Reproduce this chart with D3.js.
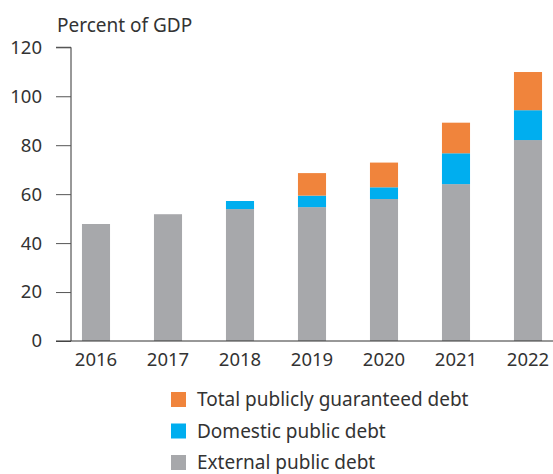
<!DOCTYPE html>
<html>
<head>
<meta charset="utf-8">
<script src="https://cdn.jsdelivr.net/npm/d3@7"></script>
<style>
  body { margin: 0; background: #fff; }
  text { font-family: "Noto Sans", sans-serif; fill: #333; }
</style>
</head>
<body>
<div id="chart"></div>
<script>
const width = 553
const height = 474

const years = ["2016", "2017", "2018", "2019", "2020", "2021", "2022"]
const external = [47.8, 51.8, 53.9, 54.7, 58.0, 64.1, 82.1]
const domestic = [0, 0, 3.3, 4.7, 4.8, 12.6, 12.2]
const guaranteed = [0, 0, 0, 9.2, 10.1, 12.5, 15.6]
const yTicks = [0, 20, 40, 60, 80, 100, 120]

const seriesNames = ["External public debt", "Domestic public debt", "Total publicly guaranteed debt"]
const colors = ["#a7a8ab", "#00aeef", "#f0843c"]

const svg = d3.select("#chart").append("svg").attr("width", width).attr("height", height)

// escalas
const x = d3.scaleBand().domain(years).range([60, 564]).paddingInner(0.61).paddingOuter(0.305)
const y = d3.scaleLinear().domain([0, 120]).range([341, 47.3])

const rows = years.map((yr, i) => ({ year: yr, ext: external[i], dom: domestic[i], gua: guaranteed[i] }))
const stack = d3.stack().keys(["ext", "dom", "gua"])(rows)

svg.append("g").selectAll("g").data(stack).enter().append("g")
    .attr("fill", (d, i) => colors[i])
    .selectAll("rect").data(d => d).enter()
    .append("rect")
    .attr("x", d => x(d.data.year))
    .attr("y", d => y(d[1]))
    .attr("width", x.bandwidth())
    .attr("height", d => y(d[0]) - y(d[1]))

// eje y
const yAxis = d3.axisLeft(y).tickValues(yTicks).tickSize(15).tickPadding(14)
const yAxisGroup = svg.append("g").attr("transform", "translate(71,0)").call(yAxis)
yAxisGroup.select(".domain").attr("d", `M-15,${y(120)}H0V${y(0)}`).attr("stroke", "#333")
yAxisGroup.selectAll(".tick line").attr("stroke", "#555")
yAxisGroup.selectAll("text").style("font-size", "18.5px").attr("fill", "#333")

// eje x
const xAxis = d3.axisBottom(x).tickSize(0).tickPadding(12)
const xAxisGroup = svg.append("g").attr("transform", `translate(0,${y(0)})`).call(xAxis)
xAxisGroup.select(".domain").remove()
xAxisGroup.selectAll("text").style("font-size", "18.5px").attr("fill", "#333")
svg.append("line").attr("x1", 56).attr("x2", width).attr("y1", y(0)).attr("y2", y(0))
    .attr("stroke", "#333").attr("stroke-width", 1.2)

svg.append("text").attr("x", 57).attr("y", 32).style("font-size", "19px").text("Percent of GDP")

// leyenda
const legend = svg.append("g").attr("transform", "translate(171,392)")
const legendOrder = [2, 1, 0]
legendOrder.forEach((k, i) => {
    const g = legend.append("g").attr("transform", `translate(0,${i * 31.5})`)
    g.append("rect").attr("width", 15).attr("height", 15).attr("fill", colors[k])
    g.append("text").attr("x", 26).attr("y", 14).style("font-size", "19px").text(seriesNames[k])
})
</script>
</body>
</html>
